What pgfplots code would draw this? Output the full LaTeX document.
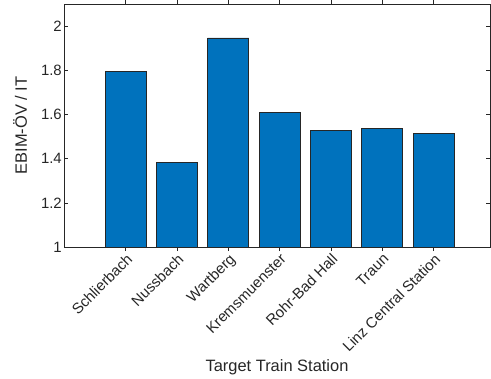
\documentclass[border=0pt]{standalone}
\usepackage{pgfplots}
\pgfplotsset{compat=1.18}
\usepackage{fontspec}
\setmainfont{Liberation Sans}
\definecolor{mblue}{HTML}{0072BD}
\definecolor{maxis}{HTML}{262626}
\begin{document}
\begin{tikzpicture}[x=1bp,y=1bp]
\begin{axis}[
  at={(0,0)}, anchor=south west,
  scale only axis,
  width=426bp, height=243bp,
  xmin=-0.2, xmax=8.1,
  ymin=1, ymax=2.1,
  xtick={1,2,3,4,5,6,7},
  xticklabels={Schlierbach,Nussbach,Wartberg,Kremsmuenster,Rohr-Bad Hall,Traun,Linz Central Station},
  ytick={1,1.2,1.4,1.6,1.8,2},
  yticklabels={1,1.2,1.4,1.6,1.8,2},
  tick align=inside,
  major tick length=4bp,
  axis line style={maxis, line width=0.6pt},
  every tick/.style={maxis, line width=0.6pt},
  tick label style={font=\fontsize{15}{18}\selectfont, text=maxis},
  xticklabel style={rotate=45, anchor=north east, inner sep=1pt},
  yticklabel style={inner sep=2pt},
  label style={font=\fontsize{16.5}{20}\selectfont, text=maxis},
  xlabel={Target Train Station},
  ylabel={EBIM-ÖV / IT},
  ylabel style={at={(axis description cs:-0.103,0.5)}, anchor=center},
  xlabel style={yshift=-2bp},
  ybar, bar width=0.8, bar shift=0pt,
]
\addplot[fill=mblue, draw=black!85, line width=0.6pt] coordinates {
  (1,1.794) (2,1.383) (3,1.947) (4,1.609) (5,1.529) (6,1.538) (7,1.515)
};
\end{axis}
\pgfresetboundingbox
\path (-64,-131) rectangle (427,247);
\end{tikzpicture}
\end{document}
